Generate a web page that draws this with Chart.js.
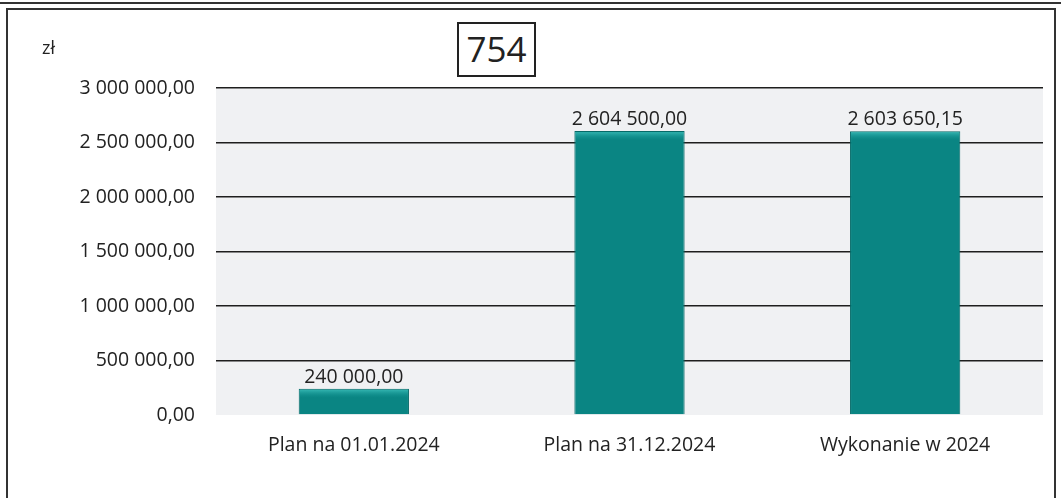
<!DOCTYPE html>
<html>
<head>
<meta charset="utf-8">
<script src="https://cdn.jsdelivr.net/npm/chart.js@4/dist/chart.umd.min.js"></script>
<style>
  html, body { margin: 0; padding: 0; background: #fff; }
  body { width: 1061px; height: 498px; position: relative; overflow: hidden; font-family: "Open Sans", Lato, sans-serif; }
  #topline { position: absolute; left: 0; top: 2px; width: 1061px; height: 0; border-top: 2px solid #333; }
  #frame { position: absolute; left: 6px; top: 8px; width: 1050px; height: 500px; border: 2px solid #333; box-sizing: border-box; }
  #unit { position: absolute; left: 42px; top: 35px; font-size: 18px; color: #222; }
  #badge { position: absolute; left: 457px; top: 22px; width: 79px; height: 55px; border: 2px solid #222; box-sizing: border-box;
           font-size: 35px; color: #222; text-align: center; line-height: 50px; background: #fff; }
  #wrap { position: absolute; left: 0; top: 0; width: 1061px; height: 498px; }
</style>
</head>
<body>
<div id="topline"></div>
<div id="frame"></div>
<div id="wrap"><canvas id="chart" width="1061" height="498"></canvas></div>
<div id="unit">zł</div>
<div id="badge">754</div>
<script>
const categories = ['Plan na 01.01.2024', 'Plan na 31.12.2024', 'Wykonanie w 2024']
const values = [240000, 2604500, 2603650.15]
const yMin = 0
const yMax = 3000000
const yStep = 500000

const fontFamily = '"Open Sans", Lato, sans-serif'
const fontSize = 19.5

const formatPl = (v) => {
  const [intPart, dec] = Number(v).toFixed(2).split('.')
  return intPart.replace(/\B(?=(\d{3})+(?!\d))/g, ' ') + ',' + dec
}

const plotBackground = {
  id: 'plotBackground',
  beforeDraw(chart) {
    const { ctx, chartArea } = chart
    ctx.save()
    ctx.fillStyle = '#f0f1f3'
    ctx.fillRect(chartArea.left, chartArea.top, chartArea.right - chartArea.left, chartArea.bottom - chartArea.top)
    ctx.restore()
  }
}

const barLabels = {
  id: 'barLabels',
  afterDatasetsDraw(chart) {
    const { ctx } = chart
    const meta = chart.getDatasetMeta(0)
    ctx.save()
    meta.data.forEach((bar, i) => {
      // light bevel strip at the top of each bar
      const w = bar.width
      const grad = ctx.createLinearGradient(0, bar.y, 0, bar.y + 9)
      grad.addColorStop(0, '#3bbcb8')
      grad.addColorStop(1, 'rgba(20,150,148,0)')
      ctx.fillStyle = grad
      ctx.fillRect(bar.x - w / 2 + 1, bar.y + 1, w - 2, 9)

      ctx.fillStyle = '#222'
      ctx.font = fontSize + 'px ' + fontFamily
      ctx.textAlign = 'center'
      ctx.textBaseline = 'bottom'
      ctx.fillText(formatPl(values[i]), bar.x, bar.y - 2)
    })
    ctx.restore()
  }
}

new Chart(document.getElementById('chart'), {
  type: 'bar',
  data: {
    labels: categories,
    datasets: [{
      data: values,
      backgroundColor: '#0a8583',
      borderColor: '#066a68',
      borderWidth: 1,
      barPercentage: 0.4,
      categoryPercentage: 1
    }]
  },
  options: {
    responsive: false,
    animation: false,
    devicePixelRatio: 1,
    layout: { padding: { left: 0, top: 88, right: 18, bottom: 33 } },
    plugins: { legend: { display: false }, tooltip: { enabled: false } },
    scales: {
      x: {
        grid: { display: false },
        border: { display: false },
        ticks: { color: '#222', font: { size: fontSize, family: fontFamily }, padding: 11 },
        afterFit: (scale) => { scale.height = 50 }
      },
      y: {
        min: yMin,
        max: yMax,
        border: { display: false },
        grid: {
          drawTicks: false,
          color: (c) => c.tick && c.tick.value === 0 ? 'rgba(0,0,0,0)' : '#1e1e1e',
          lineWidth: 1.6
        },
        ticks: {
          stepSize: yStep,
          color: '#222',
          padding: 21,
          font: { size: fontSize, family: fontFamily },
          callback: (v) => formatPl(v)
        },
        afterFit: (scale) => { scale.width = 216 }
      }
    }
  },
  plugins: [plotBackground, barLabels]
})
</script>
</body>
</html>
